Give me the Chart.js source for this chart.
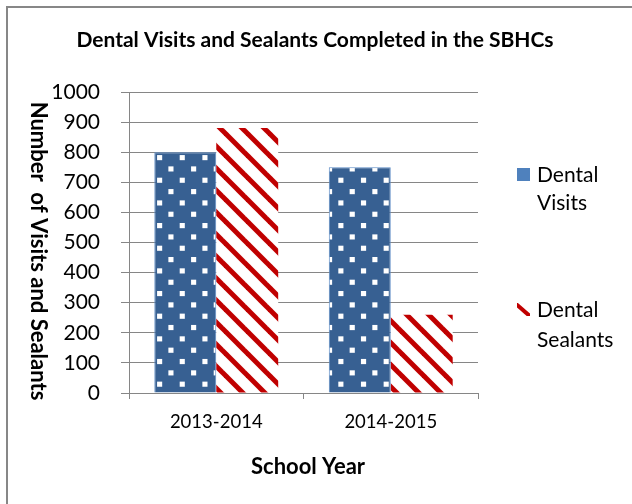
<!DOCTYPE html>
<html>
<head>
<meta charset="utf-8">
<script src="https://cdn.jsdelivr.net/npm/chart.js@4"></script>
<style>
  html, body { margin: 0; padding: 0; background: #fff; }
  #wrap { position: relative; width: 632px; height: 504px; overflow: hidden; background: #fff; }
  #frame { position: absolute; left: 6px; top: 6px; width: 700px; height: 700px; border: 2px solid #878787; box-sizing: border-box; }
  #c { position: absolute; left: 0; top: 0; }
</style>
</head>
<body>
<div id="wrap">
  <div id="frame"></div>
  <canvas id="c" width="632" height="504"></canvas>
</div>
<script>
const categories = ["2013-2014", "2014-2015"];
const dentalVisits = [800, 750];
const dentalSealants = [880, 260];
const seriesLabels = ["Dental Visits", "Dental Sealants"];
const yTicks = { min: 0, max: 1000, step: 100 };
const chartTitle = "Dental Visits and Sealants Completed in the SBHCs";
const xTitle = "School Year";
const yTitle = "Number  of Visits and Sealants";

const FONT = "Lato, 'Liberation Sans', sans-serif";
const BLUE_DARK = "rgb(55,96,146)";
const BLUE_LEG = "#4F81BD";
const RED = "#C00000";
const GRID = "#868686";

function dotPattern(ctx) {
  const s = 22;
  const c = document.createElement("canvas");
  c.width = s; c.height = s;
  const g = c.getContext("2d");
  g.fillStyle = BLUE_DARK;
  g.fillRect(0, 0, s, s);
  g.fillStyle = "#ffffff";
  g.fillRect(0, 0, 5, 5);
  g.fillRect(11, 11, 5, 5);
  const p = ctx.createPattern(c, "repeat");
  p.setTransform(new DOMMatrix().translate(157, 155).scale(1.03, 1.03));
  return p;
}

function stripePattern(ctx) {
  const s = 22;
  const c = document.createElement("canvas");
  c.width = s; c.height = s;
  const g = c.getContext("2d");
  g.fillStyle = "#ffffff";
  g.fillRect(0, 0, s, s);
  g.strokeStyle = RED;
  g.lineWidth = 5;
  for (let k = -1; k <= 1; k++) {
    g.beginPath();
    g.moveTo(k * s - 2, -2);
    g.lineTo(k * s + s + 2, s + 2);
    g.stroke();
  }
  const p = ctx.createPattern(c, "repeat");
  p.setTransform(new DOMMatrix().translate(4, 0));
  return p;
}

const canvas = document.getElementById("c");
const ctx = canvas.getContext("2d");

const decorPlugin = {
  id: "decor",
  afterDraw(chart) {
    const g = chart.ctx;
    g.save();
    g.fillStyle = "#000";
    g.textAlign = "center";
    g.textBaseline = "middle";
    g.font = "bold 21px " + FONT;
    g.fillText(chartTitle, 315, 40);
    g.font = "bold 22px " + FONT;
    g.fillText(xTitle, 308, 467);
    g.save();
    g.translate(38, 251);
    g.rotate(Math.PI / 2);
    g.fillText(yTitle, 0, 0);
    g.restore();

    const ds = chart.data.datasets;
    const items = [
      { y: 175, gap: 28 },
      { y: 310, gap: 30 }
    ];
    g.font = "21px " + FONT;
    g.textAlign = "left";
    ds.forEach((d, i) => {
      const it = items[i];
      const words = d.label.split(" ");
      const lines = [words[0], words.slice(1).join(" ")];
      if (i === 0) {
        g.fillStyle = BLUE_LEG;
        g.fillRect(517, it.y - 7, 13, 13);
      } else {
        g.save();
        g.beginPath();
        g.rect(517, it.y - 7, 13, 13);
        g.clip();
        g.strokeStyle = RED;
        g.lineWidth = 4;
        g.beginPath();
        g.moveTo(516, it.y - 6);
        g.lineTo(532, it.y + 8);
        g.stroke();
        g.restore();
      }
      g.fillStyle = "#000";
      lines.forEach((ln, j) => g.fillText(ln, 537, it.y + j * it.gap));
    });
    g.restore();
  }
};

new Chart(ctx, {
  type: "bar",
  data: {
    labels: categories,
    datasets: [
      {
        label: seriesLabels[0],
        data: dentalVisits,
        backgroundColor: dotPattern(ctx),
        borderColor: "#5B8AC4",
        borderWidth: 1,
        categoryPercentage: 0.71,
        barPercentage: 1.0
      },
      {
        label: seriesLabels[1],
        data: dentalSealants,
        backgroundColor: stripePattern(ctx),
        borderWidth: 0,
        categoryPercentage: 0.71,
        barPercentage: 1.0
      }
    ]
  },
  options: {
    responsive: false,
    animation: false,
    devicePixelRatio: 1,
    layout: { padding: { left: 0, right: 154, top: 92, bottom: 0 } },
    plugins: {
      legend: { display: false },
      title: { display: false },
      tooltip: { enabled: false }
    },
    scales: {
      x: {
        afterFit(s) { s.height = 111; },
        grid: { drawOnChartArea: false, drawTicks: true, tickLength: 6, color: GRID, lineWidth: 1 },
        border: { display: true, color: GRID, width: 1 },
        ticks: { color: "#000", font: { family: FONT, size: 18.5 }, padding: 12 }
      },
      y: {
        min: yTicks.min,
        max: yTicks.max,
        afterFit(s) { s.width = 129; },
        grid: { color: GRID, lineWidth: 1, tickLength: 8, drawTicks: true },
        border: { display: true, color: GRID, width: 1 },
        ticks: {
          stepSize: yTicks.step, color: "#000", font: { family: FONT, size: 21 }, padding: 21,
          callback: (v) => String(v)
        }
      }
    }
  },
  plugins: [decorPlugin]
});
</script>
</body>
</html>
